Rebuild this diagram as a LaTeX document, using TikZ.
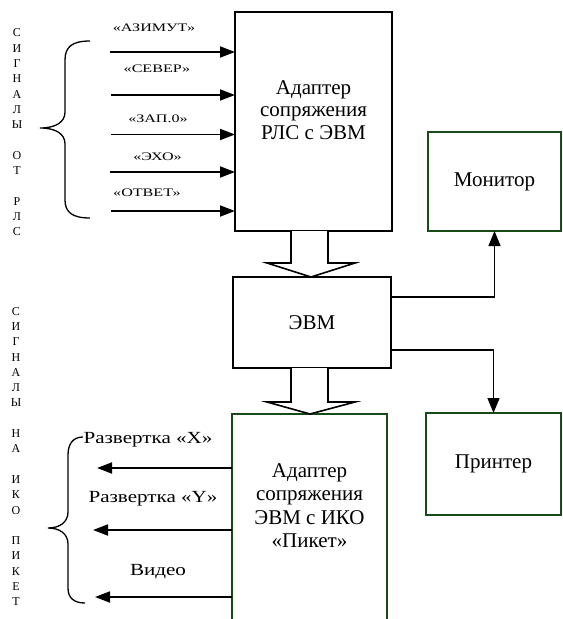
\documentclass[tikz,border=0pt]{standalone}
\usepackage{fontspec}
\setmainfont{Liberation Serif}
\usetikzlibrary{arrows.meta,calc}
\definecolor{dgreen}{RGB}{25,75,25}
\begin{document}
\begin{tikzpicture}[x=1bp,y=-1bp,
  box/.style={draw,line width=1.8bp,inner sep=0pt,outer sep=0pt,font=\fontsize{21bp}{22.5bp}\selectfont},
  gbox/.style={box,draw=dgreen},
  boxtxt/.style={align=center,inner sep=0pt,font=\fontsize{21bp}{22.5bp}\selectfont},
  boxtxtb/.style={align=center,inner sep=0pt,font=\fontsize{21bp}{23.5bp}\selectfont},
  toplbl/.style={inner sep=0pt,font=\fontsize{11.5bp}{13bp}\selectfont},
  botlbl/.style={inner sep=0pt,anchor=base,font=\fontsize{17bp}{19bp}\selectfont},
  vtxt/.style={align=center,inner sep=0pt,font=\fontsize{12bp}{15.3bp}\selectfont},
  sig/.style={line width=1.8bp,-{Triangle[length=15bp,width=11bp]}},
  conn/.style={line width=1.3bp,-{Triangle[length=15bp,width=12bp]}},
  hollow/.style={draw,fill=white,line width=1.6bp,line join=miter},
  brace/.style={line width=1.3bp}
]
\useasboundingbox (0,0) rectangle (563,619);

% boxes
\node[box,minimum width=157bp,minimum height=219bp] (adr) at (313.5,121.5) {};
\node[boxtxt] (adrt) at (313.5,110) {Адаптер\\сопряжения\\РЛС с ЭВМ};
\node[box,minimum width=158bp,minimum height=91bp] (evm) at (312,322.5) {ЭВМ};
\node[gbox,minimum width=133bp,minimum height=99bp] (mon) at (494.5,181.5) {Монитор};
\node[gbox,minimum width=135bp,minimum height=102bp] (prn) at (493.5,464) {Принтер};
\node[inner sep=0pt,outer sep=0pt,minimum width=155bp,minimum height=205bp] (adi) at (309.5,516.5) {};
\draw[dgreen,line width=1.8bp] (adi.south west) -- (adi.north west) -- (adi.north east) -- (adi.south east);
\node[boxtxtb] (adit) at (309.5,505.5) {Адаптер\\сопряжения\\ЭВМ с ИКО\\«Пикет»};

% hollow arrows
\draw[hollow] ($(adr.south)+(-22.5,0)$) -- ++(0,32) -- ++(-24,0) -- ($(evm.north)+(-1,0)$)
  -- ($(adr.south)+(41.5,32)$) -- ++(-27,0) -- ($(adr.south)+(14.5,0)$);
\draw[hollow] ($(evm.south)+(-21,0)$) -- ++(0,34) -- ++(-24,0) -- ($(adi.north)+(0.5,0)$)
  -- ($(evm.south)+(43,34)$) -- ++(-27,0) -- ($(evm.south)+(16,0)$);

% connectors to monitor and printer
\draw[conn] ($(evm.north east)+(0,20)$) -| (mon.south);
\draw[conn] ($(evm.south east)+(0,-18)$) -| (prn.north);

% input signals
\coordinate (i1) at (110,52);
\coordinate (i2) at (111,95);
\coordinate (i3) at (111,134.5);
\coordinate (i4) at (110,172);
\coordinate (i5) at (111,211);
\foreach \c in {i1,i2,i3,i4,i5} \draw[sig] (\c) -- (\c -| adr.west);
\node[toplbl] (l1) at (154,28) {\scalebox{1.4}[1]{«АЗИМУТ»}};
\node[toplbl] (l2) at (157,68.5) {\scalebox{1.4}[1]{«СЕВЕР»}};
\node[toplbl] (l3) at (158,118.5) {\scalebox{1.4}[1]{«ЗАП.0»}};
\node[toplbl] (l4) at (157.5,156.5) {\scalebox{1.4}[1]{«ЭХО»}};
\node[toplbl] (l5) at (147,193) {\scalebox{1.4}[1]{«ОТВЕТ»}};

% output signals
\coordinate (o1) at (97,468);
\coordinate (o2) at (93,530);
\coordinate (o3) at (95,597);
\foreach \c in {o1,o2,o3} \draw[sig] (\c -| adi.west) -- (\c);
\node[botlbl] (m1) at (148,443) {\scalebox{1.24}[1]{Развертка «X»}};
\node[botlbl] (m2) at (153,502) {\scalebox{1.24}[1]{Развертка «Y»}};
\node[botlbl] (m3) at (158,575) {\scalebox{1.24}[1]{Видео}};

% braces
\draw[brace] (90,41) .. controls (72,41) and (65,47) .. (65,60) -- (65,112)
  .. controls (65,122) and (56,128) .. (40,128) .. controls (56,128) and (65,134) .. (65,144)
  -- (65,200) .. controls (65,212) and (72,218) .. (90,218);
\draw[brace] (83,437) .. controls (73,437) and (68,444) .. (68,455) -- (68,512)
  .. controls (68,522) and (60,528) .. (48,528) .. controls (60,528) and (68,534) .. (68,544)
  -- (68,588) .. controls (68,598) and (74,603) .. (85,603);

% vertical texts
\node[vtxt] (v1) at (17,132.5) {С\\И\\Г\\Н\\А\\Л\\Ы\\ \\О\\Т\\ \\Р\\Л\\С};
\node[vtxt] (v2) at (16,456.5) {С\\И\\Г\\Н\\А\\Л\\Ы\\ \\Н\\А\\ \\И\\К\\О\\ \\П\\И\\К\\Е\\Т};
\end{tikzpicture}
\end{document}
